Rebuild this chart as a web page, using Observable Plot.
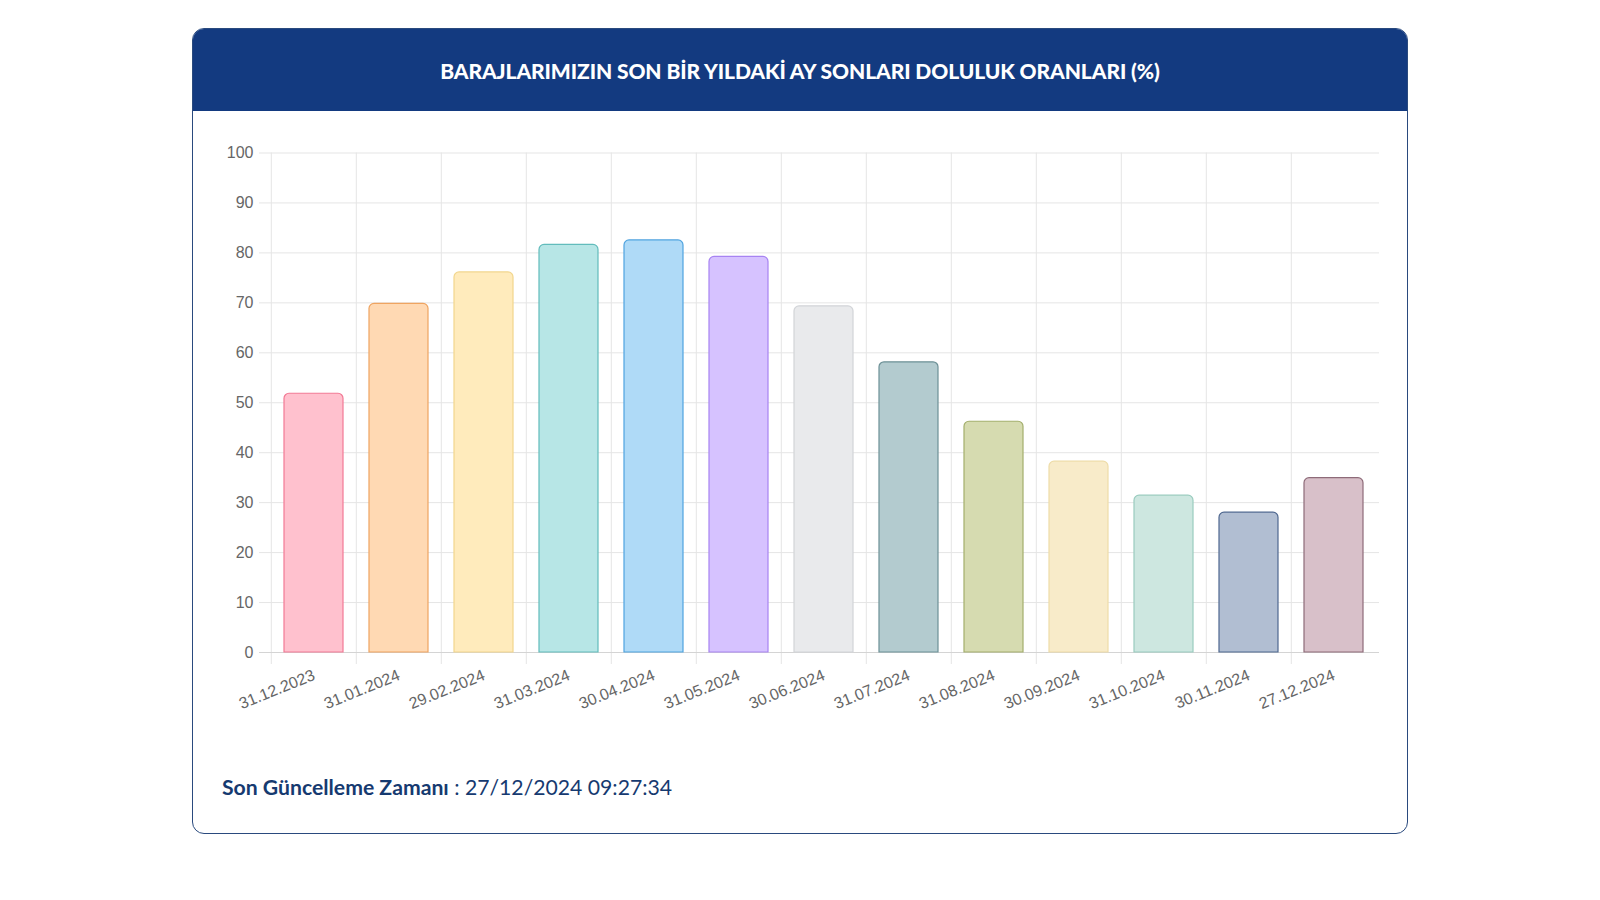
<!DOCTYPE html>
<html>
<head>
<meta charset="utf-8">
<script src="https://cdn.jsdelivr.net/npm/d3@7"></script>
<script src="https://cdn.jsdelivr.net/npm/@observablehq/plot@0.6"></script>
<style>
  html, body { margin: 0; padding: 0; background: #ffffff; width: 1600px; height: 900px; overflow: hidden; }
  #card { position: absolute; left: 192px; top: 28px; width: 1216px; height: 806px; box-sizing: border-box;
          border: 1.5px solid #2a4a7e; border-radius: 12px; overflow: hidden; background: #fff; }
  #head { height: 82px; background: #133a80; color: #fff; display: flex; align-items: center; justify-content: center;
          font-family: Lato, "Open Sans", sans-serif; font-weight: 900; font-size: 21px; letter-spacing: -0.1px; }
  #chart { position: absolute; left: 193px; top: 120px; }
  #foot { position: absolute; left: 222px; top: 775px; font-family: Lato, "Open Sans", sans-serif; font-size: 21.2px;
          color: #163a70; line-height: 24px; }
  #foot b { font-weight: 700; }
</style>
</head>
<body>
<div id="card"><div id="head">BARAJLARIMIZIN SON BİR YILDAKİ AY SONLARI DOLULUK ORANLARI (%)</div></div>
<div id="chart"></div>
<div id="foot"><b>Son Güncelleme Zamanı</b> : 27/12/2024 09:27:34</div>
<script>
const dates = ["31.12.2023", "31.01.2024", "29.02.2024", "31.03.2024", "30.04.2024", "31.05.2024", "30.06.2024",
               "31.07.2024", "31.08.2024", "30.09.2024", "31.10.2024", "30.11.2024", "27.12.2024"];
const values = [51.8, 69.8, 76.1, 81.6, 82.5, 79.2, 69.3, 58.1, 46.2, 38.2, 31.4, 28.0, 34.9];
const fills = ["#ffc1ce", "#ffd9b3", "#ffebbc", "#b7e6e6", "#afdaf7", "#d6c2ff", "#e9eaec",
               "#b3cbcf", "#d6dbb0", "#f8ebc9", "#cde7e0", "#b1bed2", "#d8c0c9"];
const strokes = ["#f27a95", "#efa461", "#f2d68d", "#62bcbc", "#4fa3df", "#a783f2", "#d2d4d8",
                 "#6d9197", "#a3ae6c", "#eedca8", "#9accbf", "#4f6890", "#8e6b79"];
const yTicks = [0, 10, 20, 30, 40, 50, 60, 70, 80, 90, 100];

const data = dates.map((d, i) => ({date: d, value: values[i], fill: fills[i], stroke: strokes[i]}));

const W = 1214, ML = 76, MR = 28;
const step = (W - ML - MR) / dates.length;
const grid = "#e5e5e5";

const chart = Plot.plot({
  width: W,
  height: 602,
  marginLeft: ML,
  marginRight: MR,
  marginTop: 32.5,
  marginBottom: 70,
  style: {fontFamily: "'Liberation Sans', Arial, sans-serif", fontSize: "16px", color: "#666", background: "transparent", overflow: "visible"},
  x: {domain: dates, paddingInner: 0.3, paddingOuter: 0.15, label: null},
  y: {domain: [0, 100], label: null},
  color: {type: "identity"},
  marks: [
    Plot.ruleY(yTicks, {stroke: grid, strokeWidth: 1, insetLeft: -10}),
    Plot.ruleX(dates, {x: d => d, dx: -step / 2, stroke: grid, strokeWidth: 1, insetBottom: -12}),
    Plot.ruleY([0], {stroke: "#d4d4d4", insetLeft: -10}),
    Plot.barY(data, {x: "date", y: "value", fill: "fill", stroke: "stroke", strokeWidth: 1.2, ry1: 5}),
    Plot.axisY(yTicks, {tickSize: 0, tickPadding: 16, fill: "#666", fontSize: 16, label: null}),
    Plot.axisX({tickSize: 0, tickPadding: 22, tickRotate: -22, fill: "#666", fontSize: 16, label: null})
  ]
});
document.getElementById("chart").appendChild(chart);
</script>
</body>
</html>
